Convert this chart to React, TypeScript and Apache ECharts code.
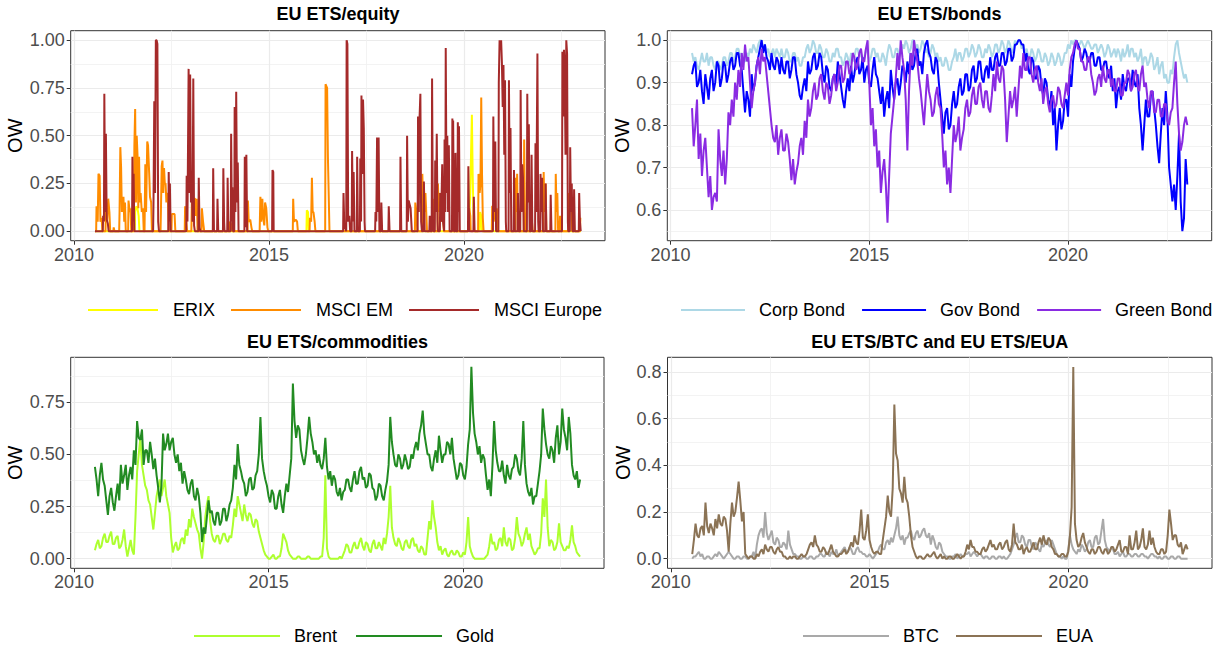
import React, { useEffect, useRef } from "react";
import * as echarts from "echarts";

const FONT = "'Liberation Sans', Arial, Helvetica, sans-serif";

// ---- time axis ----
const START_YEAR = 2010.54; // first observation; each series below is read twice a month
const X_MIN = 2009.918;
const X_MAX = 2023.612;
const YEAR_TICKS = [2010, 2015, 2020];
const YEAR_MINOR = [2012.5, 2017.5, 2022.5];

// ---- y tick labels ----
const EQ_TICKS = [0, 0.25, 0.5, 0.75, 1];
const EQ_MINOR = [0.125, 0.375, 0.625, 0.875];
const BOND_TICKS = [0.6, 0.7, 0.8, 0.9, 1.0];
const BOND_MINOR = [0.55, 0.65, 0.75, 0.85, 0.95];
const COM_TICKS = [0, 0.25, 0.5, 0.75];
const COM_MINOR = [0.125, 0.375, 0.625, 0.875];
const BTC_TICKS = [0, 0.2, 0.4, 0.6, 0.8];
const BTC_MINOR = [0.1, 0.3, 0.5, 0.7];

// ---- EU ETS / equity (year, weight) ----
const erix: number[][] = [
  [2010.54, 0], [2011.56, 0], [2011.57, 0.1], [2011.6, 0.13], [2011.63, 0.12], [2011.66, 0.08], [2011.68, 0],
  [2015.96, 0], [2015.97, 0.11], [2016.0, 0.1], [2016.02, 0],
  [2020.12, 0], [2020.13, 0.05], [2020.16, 0.2], [2020.18, 0.42], [2020.2, 0.61], [2020.22, 0.3], [2020.24, 0.1], [2020.26, 0],
  [2020.4, 0], [2020.41, 0.1], [2020.44, 0.08], [2020.46, 0], [2022.99, 0],
];

const msciEM: number[][] = [
  [2010.54, 0], [2010.57, 0], [2010.58, 0.13], [2010.61, 0.05], [2010.63, 0.3], [2010.66, 0.29], [2010.68, 0.05], [2010.71, 0.07], [2010.73, 0],
  [2010.81, 0], [2010.82, 0.12], [2010.85, 0.05], [2010.88, 0.17], [2010.91, 0.1], [2010.93, 0],
  [2011.01, 0], [2011.02, 0.02], [2011.04, 0],
  [2011.16, 0], [2011.17, 0.1], [2011.19, 0.44], [2011.21, 0.33], [2011.23, 0.1], [2011.25, 0.17], [2011.27, 0.18], [2011.29, 0.05], [2011.31, 0.15], [2011.33, 0],
  [2011.39, 0], [2011.4, 0.16], [2011.43, 0.1], [2011.45, 0.12], [2011.47, 0],
  [2011.53, 0], [2011.54, 0.2], [2011.55, 0.45], [2011.57, 0.64], [2011.59, 0.15], [2011.61, 0.5], [2011.63, 0.4], [2011.65, 0.12], [2011.67, 0.39], [2011.69, 0.15], [2011.71, 0.2], [2011.74, 0.1], [2011.77, 0.12], [2011.79, 0],
  [2011.81, 0], [2011.83, 0.35], [2011.85, 0.1], [2011.88, 0.47], [2011.9, 0.45], [2011.93, 0.3], [2011.95, 0.18], [2011.98, 0.15], [2012.0, 0],
  [2012.22, 0], [2012.23, 0.1], [2012.25, 0.34], [2012.27, 0.37], [2012.29, 0.2], [2012.31, 0.33], [2012.33, 0.25], [2012.35, 0.25], [2012.37, 0.15], [2012.39, 0.2], [2012.41, 0.17], [2012.43, 0],
  [2012.5, 0], [2012.51, 0.09], [2012.55, 0.09], [2012.58, 0.09], [2012.6, 0],
  [2012.84, 0], [2012.85, 0.13], [2012.88, 0.05], [2012.9, 0],
  [2013.01, 0], [2013.03, 0.23], [2013.05, 0.1], [2013.08, 0.17], [2013.11, 0.17], [2013.13, 0.08], [2013.15, 0.17], [2013.17, 0],
  [2013.27, 0], [2013.28, 0.12], [2013.31, 0.05], [2013.34, 0],
  [2013.99, 0], [2014.0, 0.05], [2014.04, 0.03], [2014.06, 0],
  [2014.45, 0], [2014.46, 0.16], [2014.48, 0.05], [2014.52, 0.06], [2014.55, 0.02], [2014.57, 0],
  [2014.76, 0], [2014.78, 0.18], [2014.8, 0.05], [2014.83, 0.17], [2014.85, 0.07], [2014.88, 0.03], [2014.9, 0.15], [2014.93, 0.12], [2014.96, 0.02], [2014.98, 0],
  [2015.61, 0], [2015.62, 0.17], [2015.64, 0.05], [2015.69, 0.06], [2015.72, 0.05], [2015.74, 0],
  [2016.04, 0], [2016.05, 0.07], [2016.08, 0.05], [2016.1, 0.28], [2016.12, 0.1], [2016.14, 0.1], [2016.17, 0.05], [2016.19, 0],
  [2016.44, 0], [2016.45, 0.77], [2016.47, 0.76], [2016.49, 0.75], [2016.51, 0.39], [2016.53, 0.2], [2016.55, 0],
  [2018.74, 0], [2018.75, 0.15], [2018.78, 0.1], [2018.8, 0],
  [2018.92, 0], [2018.93, 0.3], [2018.95, 0.15], [2018.97, 0.25], [2018.99, 0.1], [2019.01, 0.2], [2019.03, 0.1], [2019.05, 0],
  [2019.19, 0], [2019.2, 0.17], [2019.22, 0.1], [2019.23, 0],
  [2019.32, 0], [2019.33, 0.25], [2019.35, 0.1], [2019.37, 0.2], [2019.4, 0.18], [2019.42, 0.05], [2019.45, 0.15], [2019.48, 0],
  [2020.12, 0], [2020.13, 0.12], [2020.16, 0.08], [2020.17, 0],
  [2020.36, 0], [2020.37, 0.3], [2020.4, 0.2], [2020.42, 0.25], [2020.44, 0.7], [2020.46, 0.3], [2020.48, 0.07], [2020.5, 0],
  [2020.71, 0], [2020.72, 0.13], [2020.76, 0.13], [2020.8, 0.05], [2020.84, 0.12], [2020.87, 0],
  [2021.31, 0], [2021.32, 0.28], [2021.34, 0.1], [2021.36, 0.3], [2021.38, 0],
  [2021.53, 0], [2021.54, 0.48], [2021.56, 0.1], [2021.58, 0],
  [2021.7, 0], [2021.71, 0.11], [2021.74, 0.05], [2021.76, 0],
  [2022.03, 0], [2022.04, 0.31], [2022.06, 0.1], [2022.09, 0.25], [2022.11, 0],
  [2022.34, 0], [2022.35, 0.3], [2022.37, 0.1], [2022.39, 0.2], [2022.41, 0],
  [2022.45, 0], [2022.46, 0.08], [2022.48, 0],
  [2022.67, 0], [2022.68, 0.2], [2022.7, 0.1], [2022.73, 0.24], [2022.75, 0.15], [2022.77, 0],
  [2022.97, 0], [2022.98, 0.07], [2022.99, 0.07],
];

const msciEurope: number[][] = [
  [2010.54, 0],
  [2010.74, 0], [2010.75, 0.08], [2010.77, 0.05], [2010.78, 0.72], [2010.8, 0.1], [2010.82, 0.51], [2010.84, 0.06], [2010.87, 0.04], [2010.89, 0],
  [2011.49, 0], [2011.5, 0.39], [2011.52, 0.05], [2011.53, 0.3], [2011.55, 0],
  [2012.03, 0], [2012.04, 0.15], [2012.06, 0.68], [2012.08, 0.2], [2012.1, 1.0], [2012.12, 1.0], [2012.14, 0.98], [2012.16, 0.05], [2012.18, 0],
  [2012.42, 0], [2012.43, 0.31], [2012.45, 0.05], [2012.46, 0.25], [2012.48, 0],
  [2012.88, 0], [2012.89, 0.29], [2012.91, 0.05], [2012.94, 0.85], [2012.96, 0.2], [2012.98, 0.82], [2013.0, 0.15], [2013.02, 0.27], [2013.04, 0.05], [2013.06, 0.8], [2013.08, 0.03], [2013.1, 0],
  [2013.19, 0], [2013.2, 0.28], [2013.22, 0.02], [2013.24, 0],
  [2013.56, 0], [2013.57, 0.33], [2013.59, 0],
  [2013.67, 0], [2013.68, 0.17], [2013.7, 0],
  [2013.82, 0], [2013.83, 0.33], [2013.85, 0.05], [2013.86, 0],
  [2013.93, 0], [2013.94, 0.28], [2013.96, 0],
  [2014.02, 0], [2014.03, 0.51], [2014.05, 0.05], [2014.06, 0.23], [2014.08, 0],
  [2014.11, 0], [2014.12, 0.65], [2014.14, 0.1], [2014.16, 0.73], [2014.18, 0.15], [2014.2, 0.36], [2014.22, 0],
  [2014.37, 0], [2014.38, 0.39], [2014.4, 0.02], [2014.42, 0.4], [2014.44, 0],
  [2015.08, 0], [2015.09, 0.32], [2015.11, 0.31], [2015.12, 0],
  [2016.9, 0], [2016.91, 0.2], [2016.93, 0.03], [2016.98, 0], [2016.99, 1.0], [2017.01, 0.98], [2017.03, 0.05], [2017.06, 0.08], [2017.08, 0],
  [2017.12, 0], [2017.13, 0.42], [2017.15, 0.05], [2017.17, 0.31], [2017.19, 0],
  [2017.25, 0], [2017.26, 0.39], [2017.28, 0],
  [2017.33, 0], [2017.34, 0.38], [2017.36, 0.05], [2017.37, 0.71], [2017.39, 0.3], [2017.41, 0.69], [2017.43, 0.54], [2017.45, 0.05], [2017.46, 0],
  [2017.72, 0], [2017.73, 0.1], [2017.75, 0.05], [2017.77, 0.49], [2017.79, 0.1], [2017.81, 0.49], [2017.83, 0],
  [2017.87, 0], [2017.88, 0.15], [2017.9, 0],
  [2018.06, 0], [2018.07, 0.13], [2018.09, 0],
  [2018.36, 0], [2018.37, 0.39], [2018.39, 0],
  [2018.53, 0], [2018.54, 0.5], [2018.56, 0.05], [2018.58, 0.16], [2018.63, 0.12], [2018.66, 0],
  [2018.81, 0], [2018.82, 0.6], [2018.84, 0.1], [2018.86, 0.6], [2018.88, 0.72], [2018.9, 0.05], [2018.92, 0],
  [2018.96, 0], [2018.97, 0.26], [2018.99, 0],
  [2019.11, 0], [2019.12, 0.08], [2019.14, 0], [2019.17, 0], [2019.18, 0.8], [2019.2, 0.05], [2019.21, 0],
  [2019.25, 0], [2019.26, 0.37], [2019.28, 0.1], [2019.3, 0.51], [2019.32, 0.05], [2019.33, 0],
  [2019.38, 0], [2019.39, 0.2], [2019.41, 0.05], [2019.44, 0.35], [2019.46, 0.05],
  [2019.49, 0], [2019.5, 0.48], [2019.52, 0.1], [2019.53, 0.96], [2019.55, 0.2], [2019.57, 0.5], [2019.59, 0.1], [2019.61, 0.45], [2019.63, 0],
  [2019.69, 0], [2019.7, 0.59], [2019.71, 0.1], [2019.72, 0.58], [2019.74, 0],
  [2019.77, 0], [2019.78, 0.41], [2019.8, 0],
  [2019.83, 0], [2019.84, 0.57], [2019.86, 0.1], [2019.87, 0.55], [2019.89, 0],
  [2020.1, 0], [2020.11, 0.34], [2020.13, 0],
  [2020.24, 0], [2020.25, 0.18], [2020.27, 0],
  [2020.74, 0], [2020.75, 0.6], [2020.77, 0.1], [2020.8, 0.47], [2020.82, 0],
  [2020.88, 0], [2020.89, 0.78], [2020.91, 1.0], [2020.93, 0.95], [2020.95, 1.0], [2020.97, 0.88], [2020.99, 0.65], [2021.01, 0.87], [2021.03, 0.4], [2021.05, 0.79], [2021.07, 0.05], [2021.08, 0],
  [2021.14, 0], [2021.15, 0.79], [2021.17, 0.2], [2021.19, 0.54], [2021.21, 0],
  [2021.27, 0], [2021.28, 0.32], [2021.3, 0],
  [2021.37, 0], [2021.38, 0.2], [2021.4, 0],
  [2021.44, 0], [2021.45, 0.74], [2021.47, 0.1], [2021.49, 0.35], [2021.51, 0.28], [2021.53, 0],
  [2021.61, 0], [2021.62, 0.72], [2021.64, 0.15], [2021.66, 0.56], [2021.68, 0],
  [2021.72, 0], [2021.73, 0.4], [2021.75, 0],
  [2021.82, 0], [2021.83, 0.46], [2021.85, 0.1], [2021.88, 0.93], [2021.9, 0.05], [2021.91, 0],
  [2021.95, 0], [2021.96, 0.3], [2021.98, 0.1], [2022.0, 0.28], [2022.02, 0],
  [2022.08, 0], [2022.09, 0.25], [2022.11, 0],
  [2022.21, 0], [2022.22, 0.19], [2022.24, 0],
  [2022.51, 0], [2022.52, 0.94], [2022.54, 0.6], [2022.56, 0.95], [2022.58, 0.85], [2022.6, 0.4], [2022.62, 1.0], [2022.64, 0.93], [2022.66, 0.05], [2022.67, 0],
  [2022.71, 0], [2022.72, 0.44], [2022.74, 0.1], [2022.76, 0.25], [2022.78, 0],
  [2022.81, 0], [2022.82, 0.22], [2022.84, 0],
  [2022.94, 0], [2022.95, 0.2], [2022.97, 0.05], [2022.99, 0],
];

// ---- EU ETS / bonds: start-of-month and mid-month readings ----
const corpBond = [
  0.97, 0.96, 0.93, 0.97, 0.95, 0.94, 0.96, 0.93, 0.95, 0.94,
  0.96, 0.95, 0.97, 0.96, 0.98, 0.97, 0.95, 0.96, 0.97, 0.98,
  0.99, 1.0, 0.99, 0.98, 0.97, 0.96, 0.97, 0.98, 0.96, 0.97,
  0.95, 0.97, 0.96, 0.94, 0.96, 0.99, 0.98, 0.99, 0.97, 0.98,
  0.96, 0.97, 0.95, 0.96, 0.98, 0.96, 0.95, 0.96, 0.97, 0.96,
  0.98, 0.97, 0.96, 0.97, 0.96, 0.98, 0.97, 0.95, 0.96, 0.97,
  0.98, 0.96, 0.98, 0.97, 0.98, 0.99, 0.98, 1.0, 0.99, 0.98,
  0.99, 0.98, 0.97, 0.98, 0.97, 0.96, 0.94, 0.95, 0.93, 0.96,
  0.95, 0.97, 0.96, 0.98, 0.97, 0.98, 0.97, 0.98, 0.96, 0.97,
  0.98, 0.97, 0.99, 0.98, 0.99, 0.98, 0.99, 0.98, 0.99, 1.0,
  0.99, 0.98, 0.96, 0.97, 0.96, 0.97, 0.95, 0.96, 0.95, 0.96,
  0.95, 0.96, 0.95, 0.97, 0.98, 0.99, 1.0, 0.99, 0.99, 0.99,
  0.99, 0.98, 0.99, 0.98, 0.98, 0.97, 0.98, 0.97, 0.96, 0.97,
  0.98, 0.97, 0.96, 0.98, 0.97, 0.96, 0.94, 0.96, 0.95, 0.96,
  0.94, 0.92, 0.95, 0.92, 0.9, 0.92, 0.99, 0.97, 0.93, 0.92,
];
const corpBondMid = [
  0.95, 0.94, 0.95, 0.95, 0.97, 0.96, 0.94, 0.95, 0.93, 0.96,
  0.94, 0.97, 0.95, 0.98, 0.96, 0.95, 0.97, 0.98, 0.99, 0.97,
  1.0, 0.98, 0.97, 0.96, 0.98, 0.98, 0.96, 0.96, 0.98, 0.95,
  0.97, 0.95, 0.94, 0.96, 0.98, 0.97, 1.0, 0.97, 0.99, 0.96,
  0.98, 0.95, 0.97, 0.98, 0.96, 0.94, 0.97, 0.94, 0.95, 0.98,
  0.96, 0.95, 0.98, 0.95, 0.98, 0.96, 0.95, 0.97, 0.94, 0.99,
  0.96, 0.98, 0.96, 0.99, 1.0, 0.97, 1.0, 0.98, 0.97, 1.0,
  0.97, 0.96, 0.99, 0.96, 0.95, 0.94, 0.96, 0.93, 0.95, 0.98,
  0.97, 0.95, 0.98, 0.96, 0.99, 0.96, 0.99, 0.96, 0.98, 0.99,
  0.96, 0.99, 0.97, 1.0, 0.97, 1.0, 0.97, 1.0, 1.0, 0.98,
  0.97, 0.96, 0.98, 0.95, 0.98, 0.95, 0.97, 0.94, 0.97, 0.94,
  0.97, 0.94, 0.97, 0.99, 1.0, 1.0, 0.99, 1.0, 0.98, 1.0,
  0.98, 0.99, 0.97, 0.99, 0.96, 0.99, 0.96, 0.98, 0.98, 0.95,
  0.96, 0.99, 0.98, 0.96, 0.95, 0.98, 0.96, 0.94, 0.97, 0.93,
  0.96, 0.94, 0.91, 0.9, 0.93, 0.96, 1.0, 0.95, 0.91, 0.9,
];
const govBond = [
  0.92, 0.95, 0.9, 0.88, 0.92, 0.86, 0.93, 0.9, 0.94, 0.91,
  0.94, 0.92, 0.96, 0.94, 0.97, 0.93, 0.83, 0.86, 0.92, 0.9,
  0.96, 1.0, 0.99, 0.95, 0.97, 0.93, 0.95, 0.96, 0.92, 0.95,
  0.93, 0.96, 0.9, 0.86, 0.91, 0.95, 0.93, 0.97, 0.94, 0.96,
  0.9, 0.93, 0.88, 0.92, 0.95, 0.89, 0.84, 0.91, 0.94, 0.92,
  0.96, 0.93, 0.9, 0.94, 0.89, 0.96, 0.91, 0.85, 0.82, 0.88,
  0.93, 0.86, 0.91, 0.9, 0.93, 0.95, 0.97, 0.94, 0.98, 0.95,
  0.97, 1.0, 0.96, 0.92, 0.95, 0.86, 0.78, 0.84, 0.8, 0.88,
  0.85, 0.91, 0.88, 0.92, 0.89, 0.94, 0.91, 0.95, 0.9, 0.94,
  0.96, 0.93, 0.97, 0.94, 0.97, 0.95, 0.98, 0.96, 0.99, 1.0,
  0.99, 0.97, 0.92, 0.95, 0.91, 0.93, 0.87, 0.9, 0.84, 0.8,
  0.74, 0.84, 0.81, 0.86, 0.92, 0.95, 1.0, 0.98, 0.96, 0.97,
  0.95, 0.97, 0.94, 0.96, 0.93, 0.95, 0.91, 0.88, 0.84, 0.89,
  0.92, 0.88, 0.91, 0.93, 0.89, 0.84, 0.74, 0.86, 0.82, 0.88,
  0.8, 0.71, 0.84, 0.88, 0.7, 0.62, 0.6, 0.78, 0.55, 0.72,
];
const govBondMid = [
  0.94, 0.89, 0.93, 0.85, 0.89, 0.91, 0.88, 0.95, 0.89, 0.95,
  0.9, 0.95, 0.93, 0.97, 0.94, 0.88, 0.88, 0.82, 0.88, 0.94,
  0.98, 0.97, 0.96, 0.93, 0.94, 0.96, 0.92, 0.93, 0.95, 0.91,
  0.96, 0.92, 0.87, 0.89, 0.88, 0.92, 0.96, 0.93, 0.97, 0.92,
  0.94, 0.89, 0.91, 0.89, 0.92, 0.86, 0.88, 0.88, 0.9, 0.95,
  0.92, 0.96, 0.93, 0.9, 0.93, 0.92, 0.88, 0.89, 0.86, 0.84,
  0.89, 0.9, 0.87, 0.94, 0.9, 0.92, 0.93, 0.97, 0.94, 0.92,
  0.99, 0.97, 0.93, 0.96, 0.9, 0.82, 0.83, 0.79, 0.85, 0.84,
  0.89, 0.87, 0.92, 0.88, 0.93, 0.9, 0.95, 0.91, 0.93, 0.91,
  0.93, 0.96, 0.94, 0.97, 0.94, 0.98, 0.95, 0.99, 1.0, 0.99,
  0.95, 0.93, 0.96, 0.91, 0.94, 0.89, 0.91, 0.86, 0.88, 0.84,
  0.8, 0.79, 0.86, 0.82, 0.89, 0.98, 0.99, 0.95, 0.98, 0.95,
  0.97, 0.94, 0.96, 0.93, 0.95, 0.92, 0.94, 0.91, 0.88, 0.86,
  0.89, 0.91, 0.88, 0.9, 0.92, 0.8, 0.8, 0.82, 0.87, 0.84,
  0.75, 0.78, 0.8, 0.82, 0.66, 0.66, 0.68, 0.62, 0.58, 0.66,
];
const greenBond = [
  0.84, 0.8, 0.72, 0.68, 0.77, 0.63, 0.6, 0.64, 0.79, 0.68,
  0.66, 0.83, 0.86, 0.9, 0.93, 0.97, 0.99, 0.96, 0.84, 0.9,
  0.96, 0.98, 0.96, 0.88, 0.8, 0.76, 0.73, 0.79, 0.74, 0.76,
  0.67, 0.66, 0.71, 0.77, 0.81, 0.86, 0.84, 0.9, 0.87, 0.92,
  0.86, 0.89, 0.87, 0.92, 0.9, 0.94, 0.91, 0.95, 0.93, 0.96,
  0.94, 0.98, 0.95, 1.0, 0.8, 0.75, 0.7, 0.64, 0.72, 0.57,
  0.78, 0.86, 0.97, 1.0, 0.93, 0.74, 0.97, 1.0, 0.95, 0.88,
  0.8, 0.92, 0.86, 0.83, 0.89, 0.84, 0.7, 0.66, 0.64, 0.8,
  0.78, 0.74, 0.79, 0.86, 0.83, 0.89, 0.85, 0.9, 0.84, 0.88,
  0.83, 0.92, 0.95, 0.9, 0.93, 0.76, 0.88, 0.86, 0.82, 0.94,
  0.97, 0.93, 0.96, 0.9, 0.94, 0.88, 0.85, 0.89, 0.83, 0.87,
  0.85, 0.88, 0.84, 0.9, 0.93, 0.97, 1.0, 0.98, 0.95, 0.93,
  0.96, 0.9, 0.88, 0.92, 0.94, 0.9, 0.93, 0.91, 0.88, 0.91,
  0.87, 0.9, 0.92, 0.89, 0.93, 0.88, 0.94, 0.9, 0.84, 0.88,
  0.83, 0.86, 0.82, 0.85, 0.8, 0.84, 0.95, 0.78, 0.76, 0.82,
];
const greenBondMid = [
  0.75, 0.86, 0.78, 0.74, 0.7, 0.68, 0.63, 0.62, 0.72, 0.74,
  0.72, 0.8, 0.82, 0.86, 0.89, 0.93, 0.95, 0.9, 0.88, 0.94,
  0.92, 0.95, 0.92, 0.84, 0.77, 0.8, 0.77, 0.74, 0.78, 0.72,
  0.72, 0.69, 0.75, 0.73, 0.77, 0.82, 0.88, 0.86, 0.91, 0.88,
  0.9, 0.85, 0.91, 0.88, 0.94, 0.9, 0.95, 0.92, 0.97, 0.93,
  0.97, 0.95, 0.98, 0.9, 0.84, 0.79, 0.74, 0.69, 0.66, 0.68,
  0.82, 0.91, 0.93, 0.96, 0.86, 0.88, 0.94, 0.97, 0.91, 0.84,
  0.86, 0.88, 0.82, 0.87, 0.85, 0.78, 0.74, 0.7, 0.72, 0.76,
  0.82, 0.77, 0.84, 0.82, 0.87, 0.85, 0.89, 0.86, 0.88, 0.84,
  0.87, 0.88, 0.91, 0.94, 0.86, 0.82, 0.84, 0.89, 0.88, 0.91,
  0.93, 0.96, 0.92, 0.93, 0.9, 0.91, 0.88, 0.85, 0.86, 0.84,
  0.89, 0.85, 0.87, 0.87, 0.96, 0.99, 0.98, 0.95, 0.93, 0.96,
  0.92, 0.87, 0.91, 0.89, 0.91, 0.93, 0.89, 0.88, 0.91, 0.87,
  0.9, 0.93, 0.88, 0.92, 0.89, 0.92, 0.89, 0.86, 0.88, 0.83,
  0.86, 0.82, 0.85, 0.81, 0.83, 0.9, 0.85, 0.74, 0.8, 0.8,
];

// ---- EU ETS / commodities: start-of-month and mid-month readings ----
const brent = [
  0.04, 0.09, 0.06, 0.12, 0.08, 0.13, 0.07, 0.11, 0.06, 0.14,
  0.01, 0.09, 0.02, 0.42, 0.58, 0.4, 0.33, 0.26, 0.14, 0.3,
  0.38, 0.34, 0.3, 0.22, 0.03, 0.08, 0.05, 0.1, 0.14, 0.19,
  0.24, 0.17, 0.12, 0.0, 0.2, 0.3, 0.12, 0.08, 0.11, 0.09,
  0.12, 0.08, 0.1, 0.24, 0.3, 0.22, 0.26, 0.18, 0.21, 0.15,
  0.18, 0.1, 0.04, 0.01, 0.0, 0.02, 0.0, 0.01, 0.12, 0.08,
  0.02, 0.0, 0.0, 0.01, 0.0, 0.0, 0.01, 0.0, 0.0, 0.0,
  0.01, 0.4, 0.01, 0.0, 0.0, 0.0, 0.0, 0.04, 0.06, 0.03,
  0.08, 0.05, 0.1, 0.04, 0.07, 0.03, 0.09, 0.05, 0.06, 0.1,
  0.12, 0.35, 0.1, 0.06, 0.08, 0.04, 0.09, 0.05, 0.1, 0.07,
  0.03, 0.05, 0.02, 0.18, 0.28, 0.15, 0.04, 0.02, 0.05, 0.01,
  0.04, 0.02, 0.03, 0.01, 0.02, 0.2, 0.03, 0.0, 0.0, 0.0,
  0.0, 0.02, 0.12, 0.08, 0.05, 0.1, 0.15, 0.06, 0.09, 0.05,
  0.2, 0.1, 0.08, 0.15, 0.12, 0.04, 0.03, 0.05, 0.29, 0.38,
  0.06, 0.08, 0.05, 0.17, 0.06, 0.04, 0.05, 0.16, 0.06, 0.02,
];
const brentMid = [
  0.07, 0.05, 0.1, 0.08, 0.11, 0.07, 0.1, 0.05, 0.09, 0.06,
  0.05, 0.04, 0.2, 0.5, 0.45, 0.35, 0.28, 0.2, 0.22, 0.34,
  0.3, 0.38, 0.26, 0.1, 0.06, 0.04, 0.09, 0.07, 0.11, 0.15,
  0.2, 0.14, 0.05, 0.08, 0.26, 0.18, 0.09, 0.11, 0.07, 0.12,
  0.09, 0.11, 0.16, 0.2, 0.26, 0.18, 0.21, 0.22, 0.17, 0.19,
  0.13, 0.07, 0.02, 0.0, 0.01, 0.0, 0.01, 0.05, 0.1, 0.04,
  0.01, 0.0, 0.01, 0.0, 0.0, 0.01, 0.0, 0.0, 0.0, 0.01,
  0.1, 0.05, 0.0, 0.0, 0.0, 0.01, 0.02, 0.07, 0.03, 0.06,
  0.05, 0.08, 0.06, 0.08, 0.04, 0.07, 0.05, 0.08, 0.04, 0.07,
  0.2, 0.15, 0.07, 0.1, 0.05, 0.08, 0.06, 0.09, 0.06, 0.04,
  0.06, 0.02, 0.1, 0.14, 0.2, 0.08, 0.06, 0.04, 0.02, 0.03,
  0.02, 0.04, 0.01, 0.03, 0.08, 0.06, 0.01, 0.0, 0.0, 0.0,
  0.01, 0.06, 0.07, 0.04, 0.09, 0.06, 0.08, 0.1, 0.04, 0.1,
  0.12, 0.06, 0.12, 0.09, 0.06, 0.02, 0.05, 0.12, 0.2, 0.15,
  0.09, 0.04, 0.08, 0.08, 0.04, 0.06, 0.09, 0.08, 0.03, 0.01,
];
const gold = [
  0.44, 0.3, 0.46, 0.35, 0.21, 0.34, 0.23, 0.36, 0.45, 0.4,
  0.33, 0.44, 0.52, 0.66, 0.57, 0.45, 0.52, 0.56, 0.43, 0.4,
  0.27, 0.6, 0.55, 0.52, 0.58, 0.46, 0.42, 0.36, 0.38, 0.31,
  0.38, 0.28, 0.3, 0.08, 0.12, 0.28, 0.23, 0.16, 0.22, 0.18,
  0.24, 0.21, 0.28, 0.45, 0.55, 0.42, 0.36, 0.32, 0.39, 0.34,
  0.42, 0.68, 0.42, 0.35, 0.27, 0.31, 0.24, 0.33, 0.22, 0.36,
  0.4, 0.84, 0.58, 0.62, 0.48, 0.5, 0.68, 0.56, 0.52, 0.5,
  0.43, 0.58, 0.38, 0.35, 0.38, 0.3, 0.28, 0.33, 0.38, 0.32,
  0.42, 0.36, 0.44, 0.39, 0.35, 0.4, 0.33, 0.3, 0.35, 0.28,
  0.37, 0.68, 0.5, 0.44, 0.48, 0.45, 0.47, 0.44, 0.48, 0.56,
  0.6, 0.71, 0.55, 0.5, 0.42, 0.52, 0.59, 0.46, 0.5, 0.55,
  0.58, 0.43, 0.4, 0.45, 0.38, 0.55, 0.92, 0.6, 0.5, 0.46,
  0.48, 0.33, 0.3, 0.66, 0.46, 0.42, 0.4, 0.45, 0.38, 0.44,
  0.48, 0.4, 0.66, 0.36, 0.3, 0.26, 0.3, 0.42, 0.72, 0.55,
  0.48, 0.52, 0.58, 0.5, 0.72, 0.58, 0.68, 0.45, 0.38, 0.34,
];
const goldMid = [
  0.38, 0.4, 0.38, 0.28, 0.3, 0.27, 0.3, 0.28, 0.36, 0.45,
  0.4, 0.38, 0.45, 0.58, 0.62, 0.52, 0.46, 0.5, 0.48, 0.34,
  0.35, 0.52, 0.6, 0.56, 0.5, 0.5, 0.46, 0.42, 0.33, 0.36,
  0.3, 0.34, 0.22, 0.15, 0.2, 0.22, 0.18, 0.22, 0.16, 0.24,
  0.18, 0.26, 0.34, 0.38, 0.45, 0.38, 0.3, 0.38, 0.33, 0.4,
  0.5, 0.48, 0.38, 0.3, 0.33, 0.24, 0.3, 0.26, 0.3, 0.32,
  0.48, 0.66, 0.64, 0.52, 0.45, 0.58, 0.6, 0.5, 0.46, 0.45,
  0.48, 0.44, 0.42, 0.4, 0.32, 0.34, 0.32, 0.38, 0.34, 0.38,
  0.36, 0.42, 0.38, 0.34, 0.41, 0.34, 0.28, 0.36, 0.3, 0.33,
  0.45, 0.56, 0.45, 0.5, 0.43, 0.5, 0.43, 0.5, 0.53, 0.52,
  0.64, 0.6, 0.5, 0.44, 0.48, 0.46, 0.52, 0.5, 0.56, 0.5,
  0.48, 0.38, 0.46, 0.4, 0.44, 0.62, 0.7, 0.56, 0.54, 0.5,
  0.4, 0.38, 0.45, 0.52, 0.42, 0.47, 0.36, 0.4, 0.43, 0.5,
  0.42, 0.48, 0.45, 0.32, 0.34, 0.3, 0.36, 0.5, 0.62, 0.5,
  0.54, 0.46, 0.64, 0.56, 0.62, 0.52, 0.6, 0.4, 0.42, 0.38,
];

// ---- EU ETS / BTC and EU ETS / EUA: start-of-month and mid-month readings ----
const btc = [
  0.0, 0.01, 0.03, 0.02, 0.0, 0.01, 0.0, 0.02, 0.03, 0.01,
  0.01, 0.03, 0.01, 0.0, 0.01, 0.0, 0.01, 0.0, 0.01, 0.0,
  0.1, 0.13, 0.2, 0.08, 0.12, 0.06, 0.08, 0.05, 0.06, 0.12,
  0.04, 0.02, 0.01, 0.0, 0.01, 0.0, 0.01, 0.0, 0.01, 0.02,
  0.01, 0.02, 0.03, 0.02, 0.01, 0.03, 0.05, 0.03, 0.04, 0.02,
  0.05, 0.03, 0.02, 0.01, 0.01, 0.01, 0.03, 0.06, 0.04, 0.08,
  0.09, 0.1, 0.18, 0.08, 0.06, 0.09, 0.12, 0.08, 0.12, 0.1,
  0.13, 0.09, 0.06, 0.08, 0.04, 0.06, 0.02, 0.01, 0.0, 0.01,
  0.0, 0.02, 0.01, 0.02, 0.01, 0.03, 0.01, 0.02, 0.0, 0.01,
  0.0, 0.01, 0.0, 0.01, 0.01, 0.0, 0.02, 0.06, 0.11, 0.07,
  0.09, 0.05, 0.08, 0.04, 0.06, 0.03, 0.05, 0.08, 0.05, 0.06,
  0.02, 0.01, 0.01, 0.0, 0.1, 0.04, 0.02, 0.03, 0.05, 0.04,
  0.08, 0.05, 0.1, 0.07, 0.17, 0.05, 0.03, 0.04, 0.02, 0.01,
  0.03, 0.01, 0.02, 0.01, 0.02, 0.01, 0.02, 0.01, 0.01, 0.02,
  0.01, 0.01, 0.0, 0.01, 0.0, 0.01, 0.0, 0.01, 0.0, 0.0,
];
const btcMid = [
  0.01, 0.02, 0.01, 0.0, 0.01, 0.0, 0.01, 0.01, 0.02, 0.0,
  0.02, 0.02, 0.0, 0.01, 0.0, 0.01, 0.0, 0.01, 0.03, 0.06,
  0.12, 0.09, 0.11, 0.1, 0.07, 0.09, 0.05, 0.07, 0.04, 0.06,
  0.02, 0.01, 0.0, 0.01, 0.0, 0.01, 0.0, 0.01, 0.02, 0.01,
  0.03, 0.01, 0.02, 0.04, 0.02, 0.04, 0.03, 0.05, 0.02, 0.04,
  0.03, 0.02, 0.01, 0.02, 0.0, 0.02, 0.05, 0.04, 0.07, 0.06,
  0.07, 0.13, 0.1, 0.1, 0.09, 0.11, 0.09, 0.11, 0.09, 0.12,
  0.1, 0.11, 0.1, 0.05, 0.07, 0.03, 0.01, 0.0, 0.01, 0.02,
  0.01, 0.01, 0.02, 0.03, 0.02, 0.02, 0.02, 0.01, 0.01, 0.0,
  0.01, 0.0, 0.01, 0.0, 0.0, 0.01, 0.04, 0.09, 0.07, 0.1,
  0.06, 0.08, 0.05, 0.07, 0.04, 0.06, 0.07, 0.06, 0.08, 0.04,
  0.01, 0.0, 0.0, 0.04, 0.06, 0.03, 0.04, 0.06, 0.03, 0.07,
  0.05, 0.09, 0.06, 0.12, 0.08, 0.04, 0.05, 0.02, 0.03, 0.02,
  0.01, 0.02, 0.01, 0.02, 0.01, 0.02, 0.01, 0.0, 0.02, 0.01,
  0.0, 0.0, 0.01, 0.0, 0.01, 0.0, 0.01, 0.0, 0.0, 0.0,
];
const eua = [
  0.02, 0.15, 0.09, 0.14, 0.24, 0.11, 0.13, 0.17, 0.19, 0.14,
  0.17, 0.03, 0.24, 0.2, 0.33, 0.16, 0.02, 0.0, 0.01, 0.0,
  0.01, 0.04, 0.06, 0.03, 0.05, 0.02, 0.05, 0.03, 0.01, 0.0,
  0.0, 0.01, 0.0, 0.02, 0.01, 0.04, 0.07, 0.1, 0.05, 0.03,
  0.04, 0.02, 0.06, 0.02, 0.01, 0.02, 0.04, 0.03, 0.07, 0.1,
  0.06, 0.21, 0.08, 0.19, 0.05, 0.02, 0.03, 0.02, 0.13, 0.27,
  0.18, 0.66, 0.42, 0.28, 0.35, 0.24, 0.1, 0.03, 0.0, 0.01,
  0.0, 0.02, 0.01, 0.03, 0.0, 0.02, 0.01, 0.0, 0.01, 0.0,
  0.02, 0.0, 0.01, 0.06, 0.08, 0.05, 0.03, 0.02, 0.05, 0.04,
  0.08, 0.06, 0.04, 0.07, 0.05, 0.08, 0.03, 0.15, 0.06, 0.04,
  0.02, 0.05, 0.03, 0.07, 0.04, 0.09, 0.1, 0.06, 0.08, 0.04,
  0.02, 0.01, 0.02, 0.01, 0.1, 0.82, 0.08, 0.06, 0.11, 0.05,
  0.02, 0.04, 0.03, 0.05, 0.02, 0.04, 0.03, 0.05, 0.04, 0.08,
  0.03, 0.05, 0.1, 0.04, 0.12, 0.05, 0.13, 0.04, 0.12, 0.09,
  0.03, 0.02, 0.04, 0.03, 0.21, 0.08, 0.1, 0.05, 0.02, 0.06,
];
const euaMid = [
  0.08, 0.1, 0.13, 0.1, 0.14, 0.15, 0.1, 0.13, 0.15, 0.18,
  0.12, 0.15, 0.18, 0.26, 0.25, 0.2, 0.01, 0.01, 0.0, 0.02,
  0.03, 0.02, 0.04, 0.05, 0.03, 0.04, 0.03, 0.01, 0.0, 0.01,
  0.01, 0.0, 0.01, 0.01, 0.02, 0.06, 0.05, 0.06, 0.03, 0.05,
  0.02, 0.04, 0.03, 0.01, 0.02, 0.03, 0.02, 0.05, 0.05, 0.07,
  0.12, 0.09, 0.12, 0.08, 0.03, 0.03, 0.02, 0.08, 0.18, 0.2,
  0.3, 0.45, 0.3, 0.24, 0.26, 0.18, 0.05, 0.01, 0.01, 0.0,
  0.01, 0.01, 0.02, 0.01, 0.01, 0.0, 0.0, 0.01, 0.0, 0.01,
  0.01, 0.01, 0.03, 0.04, 0.05, 0.03, 0.02, 0.04, 0.03, 0.06,
  0.05, 0.04, 0.06, 0.04, 0.07, 0.04, 0.06, 0.07, 0.04, 0.06,
  0.04, 0.03, 0.05, 0.04, 0.07, 0.06, 0.07, 0.09, 0.05, 0.02,
  0.01, 0.02, 0.01, 0.03, 0.22, 0.15, 0.05, 0.09, 0.07, 0.03,
  0.04, 0.02, 0.05, 0.03, 0.04, 0.02, 0.05, 0.03, 0.06, 0.03,
  0.05, 0.02, 0.04, 0.07, 0.04, 0.08, 0.05, 0.06, 0.06, 0.05,
  0.02, 0.04, 0.02, 0.1, 0.15, 0.1, 0.06, 0.07, 0.04, 0.04,
];

// two readings per month: start of month, then mid-month
const twiceMonthly = (start: number[], mid: number[]) => {
  const out: number[][] = [];
  start.forEach((v, i) => {
    out.push([START_YEAR + i / 12, v]);
    out.push([START_YEAR + (i + 0.5) / 12, mid[i]]);
  });
  return out;
};

type SeriesDef = { name: string; color: string; data: number[][] };
type PanelDef = {
  title: string;
  titleX: number;
  titleY: number;
  grid: { left: number; top: number; width: number; height: number };
  yMin: number;
  yMax: number;
  yTicks: number[];
  yMinor: number[];
  digits: number;
  nameGap: number;
  legend: { left: number; top: number; itemWidth: number; itemGap: number; pad: number };
  series: SeriesDef[];
};

const PANELS: PanelDef[] = [
  {
    title: "EU ETS/equity",
    titleX: 337.9,
    titleY: 14,
    grid: { left: 70.7, top: 30.7, width: 534.3, height: 210 },
    yMin: -0.05,
    yMax: 1.05,
    yTicks: EQ_TICKS,
    yMinor: EQ_MINOR,
    digits: 2,
    nameGap: 46,
    legend: { left: 87, top: 301, itemWidth: 70, itemGap: 15, pad: 10 },
    series: [
      { name: "ERIX", color: "#FFFF00", data: erix },
      { name: "MSCI EM", color: "#FF8C00", data: msciEM },
      { name: "MSCI Europe", color: "#A52A2A", data: msciEurope },
    ],
  },
  {
    title: "EU ETS/bonds",
    titleX: 939.5,
    titleY: 14,
    grid: { left: 667.3, top: 30.7, width: 544.4, height: 210 },
    yMin: 0.5275,
    yMax: 1.0225,
    yTicks: BOND_TICKS,
    yMinor: BOND_MINOR,
    digits: 1,
    nameGap: 34,
    legend: { left: 680, top: 301, itemWidth: 64, itemGap: 16, pad: 9 },
    series: [
      { name: "Corp Bond", color: "#ADD8E6", data: twiceMonthly(corpBond, corpBondMid) },
      { name: "Gov Bond", color: "#0000FF", data: twiceMonthly(govBond, govBondMid) },
      { name: "Green Bond", color: "#8A2BE2", data: twiceMonthly(greenBond, greenBondMid) },
    ],
  },
  {
    title: "EU ETS/commodities",
    titleX: 337.4,
    titleY: 342,
    grid: { left: 70.7, top: 357.3, width: 533.3, height: 211 },
    yMin: -0.046,
    yMax: 0.966,
    yTicks: COM_TICKS,
    yMinor: COM_MINOR,
    digits: 2,
    nameGap: 46,
    legend: { left: 193, top: 627, itemWidth: 86, itemGap: 18, pad: 9 },
    series: [
      { name: "Brent", color: "#ADFF2F", data: twiceMonthly(brent, brentMid) },
      { name: "Gold", color: "#228B22", data: twiceMonthly(gold, goldMid) },
    ],
  },
  {
    title: "EU ETS/BTC and EU ETS/EUA",
    titleX: 939.7,
    titleY: 342,
    grid: { left: 667.5, top: 357.3, width: 544.5, height: 211 },
    yMin: -0.041,
    yMax: 0.862,
    yTicks: BTC_TICKS,
    yMinor: BTC_MINOR,
    digits: 1,
    nameGap: 35,
    legend: { left: 802, top: 627, itemWidth: 86, itemGap: 16, pad: 9 },
    series: [
      { name: "BTC", color: "#A9A9A9", data: twiceMonthly(btc, btcMid) },
      { name: "EUA", color: "#8B7355", data: twiceMonthly(eua, euaMid) },
    ],
  },
];

function buildOption() {
  const grid: any[] = [];
  const xAxis: any[] = [];
  const yAxis: any[] = [];
  const legend: any[] = [];
  const series: any[] = [];
  const graphic: any[] = [];

  PANELS.forEach((p, gi) => {
    grid.push({
      ...p.grid,
      show: true,
      borderColor: "#333333",
      borderWidth: 1,
      backgroundColor: "#ffffff",
      containLabel: false,
      outerBoundsMode: "none",
    });
    xAxis.push({
      type: "value",
      gridIndex: gi,
      position: "bottom",
      min: X_MIN,
      max: X_MAX,
      axisLine: { show: false, onZero: false },
      axisTick: { show: true, customValues: YEAR_TICKS, length: 4, lineStyle: { color: "#333333", width: 1 } },
      axisLabel: {
        customValues: YEAR_TICKS,
        formatter: (v: number) => String(Math.round(v)),
        color: "#4D4D4D",
        fontSize: 18,
        fontFamily: FONT,
        margin: 5,
      },
      splitLine: { show: true, lineStyle: { color: "#EBEBEB", width: 1.2 } },
    });
    xAxis.push({
      type: "value",
      gridIndex: gi,
      position: "bottom",
      min: X_MIN,
      max: X_MAX,
      axisLine: { show: false, onZero: false },
      axisTick: { show: false, customValues: YEAR_MINOR },
      axisLabel: { show: false, customValues: YEAR_MINOR },
      splitLine: { show: true, lineStyle: { color: "#F0F0F0", width: 0.8 } },
    });
    yAxis.push({
      type: "value",
      gridIndex: gi,
      position: "left",
      min: p.yMin,
      max: p.yMax,
      name: "OW",
      nameLocation: "middle",
      nameGap: p.nameGap,
      nameTextStyle: { fontSize: 20, color: "#000000", fontFamily: FONT },
      axisLine: { show: false, onZero: false },
      axisTick: { show: true, customValues: p.yTicks, length: 4, lineStyle: { color: "#333333", width: 1 } },
      axisLabel: {
        customValues: p.yTicks,
        formatter: (v: number) => v.toFixed(p.digits),
        color: "#4D4D4D",
        fontSize: 18,
        fontFamily: FONT,
        margin: 6,
      },
      splitLine: { show: true, lineStyle: { color: "#EBEBEB", width: 1.2 } },
    });
    yAxis.push({
      type: "value",
      gridIndex: gi,
      position: "left",
      min: p.yMin,
      max: p.yMax,
      axisLine: { show: false, onZero: false },
      axisTick: { show: false, customValues: p.yMinor },
      axisLabel: { show: false, customValues: p.yMinor },
      splitLine: { show: true, lineStyle: { color: "#F0F0F0", width: 0.8 } },
    });

    p.series.forEach((s) => {
      series.push({
        type: "line",
        name: s.name,
        xAxisIndex: gi * 2,
        yAxisIndex: gi * 2,
        data: s.data,
        symbol: "none",
        showSymbol: false,
        color: s.color,
        lineStyle: { color: s.color, width: 2 },
        itemStyle: { color: s.color },
        silent: true,
        clip: true,
      });
    });

    legend.push({
      data: p.series.map((s) => s.name),
      left: p.legend.left,
      top: p.legend.top,
      orient: "horizontal",
      itemWidth: p.legend.itemWidth,
      itemHeight: 14,
      itemGap: p.legend.itemGap,
      padding: 0,
      selectedMode: false,
      itemStyle: { opacity: 0 },
      lineStyle: { width: 2 },
      textStyle: { fontSize: 18, color: "#000000", fontFamily: FONT, padding: [0, 0, 0, p.legend.pad] },
    });

    graphic.push({
      type: "text",
      x: p.titleX,
      y: p.titleY,
      silent: true,
      style: {
        text: p.title,
        font: `bold 18px ${FONT}`,
        fill: "#000000",
        align: "center",
        verticalAlign: "middle",
      },
    });
  });

  return {
    animation: false,
    backgroundColor: "#ffffff",
    grid,
    xAxis,
    yAxis,
    legend,
    series,
    graphic,
  };
}

export default function App() {
  const ref = useRef<HTMLDivElement>(null);
  useEffect(() => {
    if (!ref.current) return;
    const chart = echarts.init(ref.current, null, { renderer: "svg" });
    chart.setOption(buildOption());
    return () => chart.dispose();
  }, []);
  return (
    <div
      ref={ref}
      style={{ position: "fixed", left: 0, top: 0, width: 1229, height: 649, background: "#ffffff" }}
    />
  );
}
